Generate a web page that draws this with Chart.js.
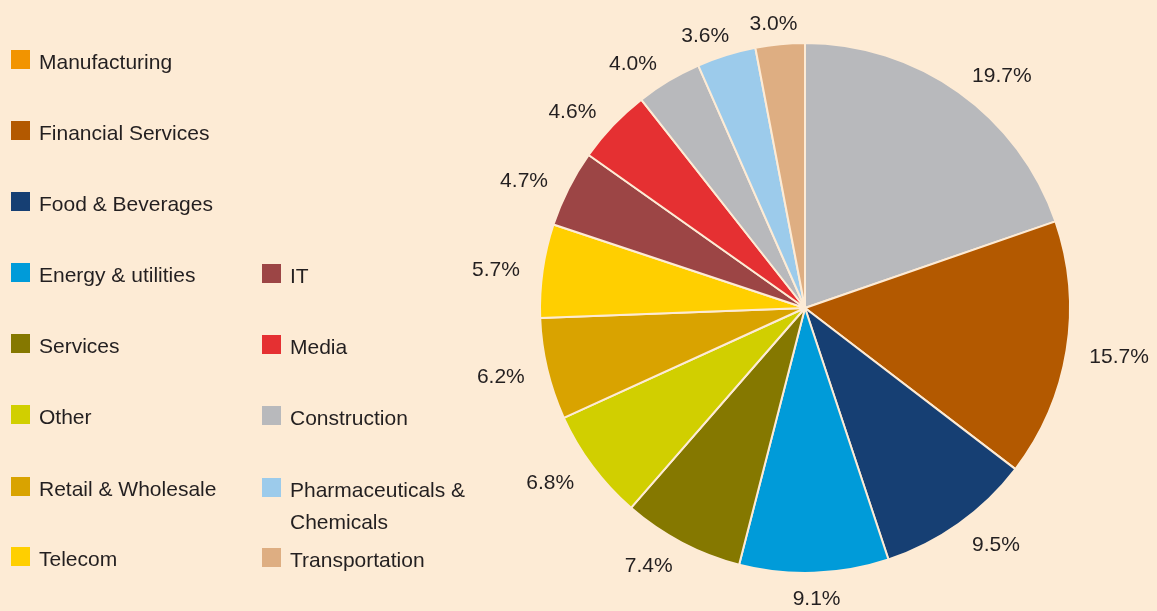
<!DOCTYPE html>
<html>
<head>
<meta charset="utf-8">
<script src="https://cdn.jsdelivr.net/npm/chart.js@4.4.1/dist/chart.umd.min.js"></script>
<style>
  html, body { margin: 0; padding: 0; background: #fdebd5; }
  #wrap { position: relative; width: 1157px; height: 611px; overflow: hidden; background: #fdebd5; }
  #c { position: absolute; left: 0; top: 0; }
  .item { position: absolute; font-family: "Liberation Sans", Arial, sans-serif; font-size: 21px; line-height: 32px; color: #231f20; }
  .sw { position: absolute; width: 19px; height: 19px; }
  .tx { position: absolute; }
</style>
</head>
<body>
<div id="wrap">
  <canvas id="c" width="1157" height="611"></canvas>
</div>
<script>
// ---- data ----
const categories = ["Manufacturing", "Financial Services", "Food & Beverages", "Energy & utilities",
  "Services", "Other", "Retail & Wholesale", "Telecom", "IT", "Media", "Construction",
  "Pharmaceuticals & Chemicals", "Transportation"];
const shares = [19.7, 15.7, 9.5, 9.1, 7.4, 6.8, 6.2, 5.7, 4.7, 4.6, 4.0, 3.6, 3.0];
const sliceColors = ["#b8b9bc", "#b35900", "#163f73", "#009bd9", "#857800", "#d1cf00",
  "#d9a300", "#ffcf00", "#9c4545", "#e53032", "#b8b9bc", "#9ccbeb", "#deae82"];
const legendColors = ["#f29400", "#b35900", "#163f73", "#009bd9", "#857800", "#d1cf00",
  "#d9a300", "#ffcf00", "#9c4545", "#e53032", "#b8b9bc", "#9ccbeb", "#deae82"];

// ---- legend (HTML) ----
const wrap = document.getElementById('wrap');
const rowTops = [50, 121, 192, 263, 334, 405, 477, 547];
categories.forEach((name, i) => {
  let col, row;
  if (i < 8) { col = 0; row = i; } else { col = 1; row = i - 5; }
  const top = rowTops[row] + (col === 1 ? 1 : 0);
  const sx = col === 0 ? 11 : 262;
  const el = document.createElement('div');
  el.className = 'item';
  el.style.left = sx + 'px';
  el.style.top = top + 'px';
  const sw = document.createElement('div');
  sw.className = 'sw';
  sw.style.left = '0px';
  sw.style.top = '0px';
  sw.style.background = legendColors[i];
  const tx = document.createElement('div');
  tx.className = 'tx';
  tx.style.left = '28px';
  tx.style.top = '-4px';
  tx.style.width = col === 0 ? '220px' : '190px';
  tx.textContent = name;
  el.appendChild(sw);
  el.appendChild(tx);
  wrap.appendChild(el);
});

// ---- outside labels plugin ----
const outsideLabels = {
  id: 'outsideLabels',
  afterDatasetsDraw(chart) {
    const ctx = chart.ctx;
    const meta = chart.getDatasetMeta(0);
    const ds = chart.data.datasets[0];
    ctx.save();
    ctx.font = '21px "Liberation Sans", Arial, sans-serif';
    ctx.fillStyle = '#231f20';
    ctx.textAlign = 'center';
    ctx.textBaseline = 'middle';
    meta.data.forEach((arc, i) => {
      const p = arc.getProps(['x', 'y', 'startAngle', 'endAngle', 'outerRadius'], true);
      const a = (p.startAngle + p.endAngle) / 2;
      const dx = Math.cos(a), dy = Math.sin(a);
      const txt = ds.data[i].toFixed(1) + '%';
      const w = ctx.measureText(txt).width;
      const r = p.outerRadius + 23;
      const shift = Math.sign(dx) * (w / 2) * Math.min(1, Math.abs(dx) / 0.5);
      ctx.fillText(txt, p.x + dx * r + shift, p.y + dy * r + 3);
    });
    ctx.restore();
  }
};

new Chart(document.getElementById('c'), {
  type: 'pie',
  data: {
    labels: categories,
    datasets: [{
      data: shares,
      backgroundColor: sliceColors,
      borderColor: '#fdebd5',
      borderWidth: 2,
      radius: 265
    }]
  },
  options: {
    responsive: false,
    animation: false,
    layout: { padding: { left: 473, right: 20, top: 5, bottom: 0 } },
    plugins: { legend: { display: false }, tooltip: { enabled: false } }
  },
  plugins: [outsideLabels]
});
</script>
</body>
</html>
